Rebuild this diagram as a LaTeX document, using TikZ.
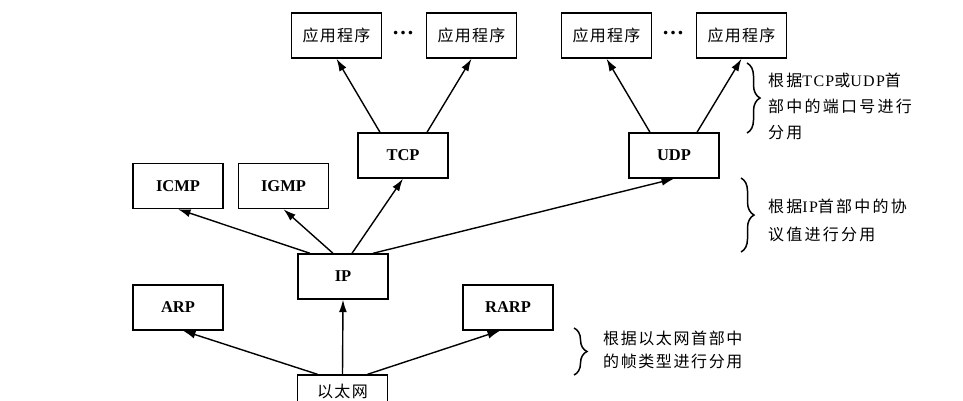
\documentclass[tikz,border=0pt]{standalone}
\usepackage{fontspec}
\setmainfont{Liberation Serif}
\newfontfamily\cjk[LetterSpace=10]{Noto Sans CJK SC}
\newfontfamily\cjkw[LetterSpace=14]{Noto Sans CJK SC}
\newfontfamily\cjkb[LetterSpace=8]{Noto Sans CJK SC}
\newfontfamily\latsp[LetterSpace=8]{Liberation Serif}
\usetikzlibrary{arrows.meta,decorations.pathreplacing,calc}
\tikzset{
  box/.style={draw, line width=1.4pt, minimum width=90pt, minimum height=45pt, inner sep=0pt},
  lbl/.style={font=\fontsize{16.5}{16.5}\selectfont\bfseries},
  clbl/.style={font=\fontsize{16}{16}\selectfont\cjkb},
  arr/.style={line width=1.4pt, -{Latex[length=12.5pt,width=8pt]}},
  note/.style={anchor=base west, inner sep=0pt, font=\fontsize{16}{16}\selectfont},
  brc/.style={decorate, decoration={brace, amplitude=13pt}, line width=1.5pt},
  dots/.style={font=\fontsize{22}{22}\selectfont\bfseries, inner sep=0pt}
}
\begin{document}
\begin{tikzpicture}[x=1pt,y=-1pt]
\useasboundingbox (0,0) rectangle (963,400);
\clip (0,0) rectangle (963,400);
% boxes
\node[box,clbl] (app1) at (336.5,35.5) {应用程序};
\node[box,clbl] (app2) at (471.5,35.5) {应用程序};
\node[box,clbl] (app3) at (606.5,35.5) {应用程序};
\node[box,clbl] (app4) at (741.5,35.5) {应用程序};
\node[dots] (d1) at (403,33) {…};
\node[dots] (d2) at (673,33) {…};
\node[box,lbl] (tcp) at (403,155.5) {TCP};
\node[box,lbl] (udp) at (674,155.5) {UDP};
\node[box,lbl] (icmp) at (178,186) {ICMP};
\node[box,lbl] (igmp) at (283.5,186) {IGMP};
\node[box,lbl] (ip) at (343,276.5) {IP};
\node[box,lbl] (arp) at (178,307.5) {ARP};
\node[box,lbl] (rarp) at (508,307.5) {RARP};
\node[box,clbl,text depth=0pt] (eth) at (342.5,397.5) {\raisebox{13pt}{以太网}};
% arrows
\draw[arr] ([xshift=-23pt]tcp.north) -- (app1.south);
\draw[arr] ([xshift=24pt]tcp.north) -- (app2.south);
\draw[arr] ([xshift=-24pt]udp.north) -- (app3.south);
\draw[arr] ([xshift=23pt]udp.north) -- (app4.south);
\draw[arr] ([xshift=-33pt]ip.north) -- (icmp.south);
\draw[arr] ([xshift=-10pt]ip.north) -- (igmp.south);
\draw[arr] ([xshift=9pt]ip.north) -- (tcp.south);
\draw[arr] ([xshift=30pt]ip.north) -- (udp.south);
\draw[arr] ([xshift=-25pt]eth.north) -- ([xshift=5pt]arp.south);
\draw[arr] (eth.north) -- (ip.south);
\draw[arr] ([xshift=25pt]eth.north) -- ([xshift=-8pt]rarp.south);
% braces
\coordinate (b1t) at (747,63);
\coordinate (b1b) at (747,133);
\draw[brc] (b1t) -- (b1b);
\coordinate (b2t) at (741,178);
\coordinate (b2b) at (741,252);
\draw[brc] (b2t) -- (b2b);
\coordinate (b3t) at (574,328);
\coordinate (b3b) at (574,375);
\draw[brc] (b3t) -- (b3b);
% notes
\node[note] (n1a) at (768,86) {{\cjkw 根据}{\latsp TCP}{\cjkw 或}{\latsp UDP}{\cjkw 首}};
\node[note] (n1b) at (768,112) {\cjkw 部中的端口号进行};
\node[note] (n1c) at (768,138) {\cjkw 分用};
\node[note] (n2a) at (768,212) {{\cjkw 根据}{\latsp IP}{\cjkw 首部中的协}};
\node[note] (n2b) at (768,240) {\cjkw 议值进行分用};
\node[note] (n3a) at (603,344) {\cjk 根据以太网首部中};
\node[note] (n3b) at (603,367) {\cjk 的帧类型进行分用};
\end{tikzpicture}
\end{document}
